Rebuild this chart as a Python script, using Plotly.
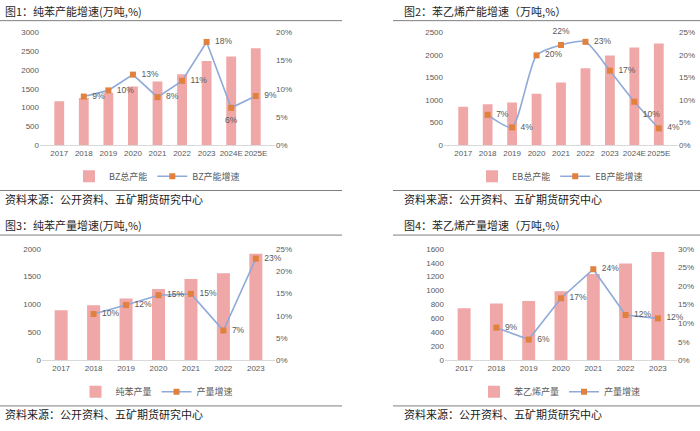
import plotly.graph_objects as go

# ---------------- data ----------------
years_cap = ["2017", "2018", "2019", "2020", "2021", "2022", "2023", "2024E", "2025E"]
years_out = ["2017", "2018", "2019", "2020", "2021", "2022", "2023"]

bz_capacity = [1165, 1250, 1390, 1555, 1690, 1885, 2235, 2355, 2575]
bz_cap_growth = [None, 0.086, 0.097, 0.125, 0.085, 0.114, 0.183, 0.066, 0.087]
bz_cap_labels = ["", "9%", "10%", "13%", "8%", "11%", "18%", "6%", "9%"]

eb_capacity = [850, 905, 945, 1135, 1385, 1705, 1985, 2165, 2255]
eb_cap_growth = [None, 0.067, 0.039, 0.199, 0.222, 0.229, 0.165, 0.096, 0.037]
eb_cap_labels = ["", "7%", "4%", "20%", "22%", "23%", "17%", "10%", "4%"]

bz_output = [900, 990, 1110, 1280, 1460, 1560, 1910]
bz_out_growth = [None, 0.104, 0.124, 0.146, 0.149, 0.067, 0.228]
bz_out_labels = ["", "10%", "12%", "15%", "15%", "7%", "23%"]

eb_output = [748, 814, 852, 992, 1240, 1390, 1553]
eb_out_growth = [None, 0.088, 0.056, 0.167, 0.245, 0.122, 0.113]
eb_out_labels = ["", "9%", "6%", "17%", "24%", "12%", "12%"]

titles = ["图1：纯苯产能增速(万吨,%)", "图2：苯乙烯产能增速（万吨,%）",
          "图3：纯苯产量增速(万吨,%)", "图4：苯乙烯产量增速（万吨,%）"]
bar_names = ["BZ总产能", "EB总产能", "纯苯产量", "苯乙烯产量"]
line_names = ["BZ产能增速", "EB产能增速", "产量增速", "产量增速"]
source_text = "资料来源：公开资料、五矿期货研究中心"

# ---------------- styling ----------------
W, H = 700, 431
CJK = "Noto Sans CJK SC, Liberation Sans, sans-serif"
NUM = "Liberation Sans, Arial, sans-serif"
BAR_COLOR = "#EFA7A7"
LINE_COLOR = "#8FA9D9"
MARK_COLOR = "#E0813E"
TXT = "#595959"

def px(x):
    return x / W

def py(y):
    return 1 - y / H

panels = [
    dict(x=years_cap, bar=bz_capacity, g=bz_cap_growth, lab=bz_cap_labels,
         xd=(40, 275), yd=(144, 29), yr=3000, yt=500, gr=0.20,
         pos=["middle right"] * 7 + ["bottom center", "middle right"], shape="linear",
         legx=157, legy=176, tx=3, ty=7, ul=17, ln=(0, 342), bl=190.5, sy=199),
    dict(x=years_cap, bar=eb_capacity, g=eb_cap_growth, lab=eb_cap_labels,
         xd=(444, 678), yd=(144, 29), yr=2500, yt=500, gr=0.25,
         pos=["middle right"] * 4 + ["top center", "middle right", "middle right", "bottom right", "middle right"],
         shape="spline", legx=560, legy=176, tx=402, ty=7, ul=17, ln=(393, 700), bl=190.5, sy=199),
    dict(x=years_out, bar=bz_output, g=bz_out_growth, lab=bz_out_labels,
         xd=(42, 275), yd=(364, 250), yr=2000, yt=500, gr=0.25,
         pos=["middle right"] * 7, shape="linear",
         legx=157, legy=396, tx=3, ty=226, ul=236, ln=(0, 342), bl=410.5, sy=419),
    dict(x=years_out, bar=eb_output, g=eb_out_growth, lab=eb_out_labels,
         xd=(445, 677), yd=(364, 250), yr=1600, yt=200, gr=0.30,
         pos=["middle right"] * 7, shape="linear",
         legx=560, legy=396, tx=402, ty=226, ul=236, ln=(393, 700), bl=410.5, sy=419),
]

fig = go.Figure()
layout = dict(
    width=W, height=H, margin=dict(l=0, r=0, t=0, b=0),
    paper_bgcolor="white", plot_bgcolor="white",
    bargap=0.6, showlegend=True,
    font=dict(family=NUM, size=9, color=TXT),
)
annotations = []
shapes = []

for i, p in enumerate(panels):
    n = i + 1
    xa = "x" if n == 1 else f"x{n}"
    ya1 = f"y{2 * n - 1}" if n > 1 else "y"
    ya2 = f"y{2 * n}"
    leg = "legend" if n == 1 else f"legend{n}"

    fig.add_trace(go.Bar(x=p["x"], y=p["bar"], name=bar_names[i],
                         marker=dict(color=BAR_COLOR, line=dict(width=0)),
                         xaxis=xa, yaxis=ya1, legend=leg))
    fig.add_trace(go.Scatter(x=p["x"], y=p["g"], name=line_names[i], mode="lines+markers",
                             line=dict(color=LINE_COLOR, width=1.6, shape=p["shape"], smoothing=0.6),
                             marker=dict(color=MARK_COLOR, symbol="square", size=6),
                             xaxis=xa, yaxis=ya2, legend=leg, cliponaxis=False))
    fig.add_trace(go.Scatter(x=p["x"], y=p["g"], mode="markers+text", text=p["lab"],
                             textposition=p["pos"], showlegend=False, cliponaxis=False,
                             marker=dict(size=12, color="rgba(0,0,0,0)"),
                             textfont=dict(family=NUM, size=8.5, color=TXT),
                             xaxis=xa, yaxis=ya2, hoverinfo="skip"))

    xkey = "xaxis" if n == 1 else f"xaxis{n}"
    y1key = "yaxis" if n == 1 else f"yaxis{2 * n - 1}"
    y2key = f"yaxis{2 * n}"
    ydom = [py(p["yd"][0]), py(p["yd"][1])]
    layout[xkey] = dict(domain=[px(p["xd"][0]), px(p["xd"][1])], anchor=ya1,
                        type="category", showline=True, linecolor="#D9D9D9", linewidth=1,
                        showgrid=False, ticks="", tickangle=0,
                        tickfont=dict(family=NUM, size=8, color=TXT), fixedrange=True)
    layout[y1key] = dict(domain=ydom, anchor=xa, range=[0, p["yr"]], dtick=p["yt"],
                         showgrid=False, zeroline=False, showline=False, ticks="",
                         tickfont=dict(family=NUM, size=8, color=TXT))
    layout[y2key] = dict(overlaying=ya1, side="right", anchor=xa, range=[0, p["gr"]],
                         dtick=0.05, tickformat=".0%", showgrid=False, zeroline=False,
                         showline=False, ticks="",
                         tickfont=dict(family=NUM, size=8, color=TXT))
    layout[leg] = dict(x=px(p["legx"]), xanchor="center", y=py(p["legy"]), yanchor="middle",
                       orientation="h", font=dict(family=CJK, size=9, color=TXT),
                       bgcolor="rgba(0,0,0,0)", itemwidth=30, tracegroupgap=0)

    annotations.append(dict(text=titles[i], x=px(p["tx"]), y=py(p["ty"]), xref="paper", yref="paper",
                            xanchor="left", yanchor="middle", showarrow=False,
                            font=dict(family=CJK, size=11, color="#262626")))
    annotations.append(dict(text=source_text, x=px(p["tx"]), y=py(p["sy"]), xref="paper", yref="paper",
                            xanchor="left", yanchor="middle", showarrow=False,
                            font=dict(family=CJK, size=11, color="#1a1a1a")))
    shapes.append(dict(type="line", xref="paper", yref="paper",
                       x0=px(p["ln"][0]), x1=px(p["ln"][1]),
                       y0=py(p["ul"]), y1=py(p["ul"]),
                       line=dict(color="#7F7F7F", width=1)))
    shapes.append(dict(type="line", xref="paper", yref="paper",
                       x0=px(p["ln"][0]), x1=px(p["ln"][1]),
                       y0=py(p["bl"]), y1=py(p["bl"]),
                       line=dict(color="#7F7F7F", width=1)))

layout["annotations"] = annotations
layout["shapes"] = shapes
fig.update_layout(**layout)
fig.write_html("out.html", config={"displayModeBar": False},
               post_script="document.body.style.margin='0px';document.body.style.overflow='hidden';")
